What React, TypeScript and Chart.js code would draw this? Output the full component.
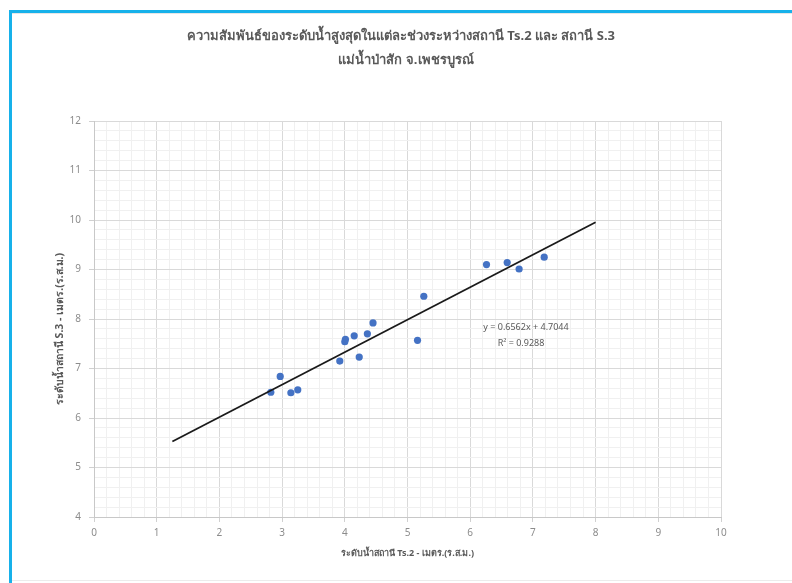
import React, { useEffect, useRef } from "react";
import { Chart, registerables } from "chart.js";

Chart.register(...registerables);

// ---- data ----
const titleLines = [
  "ความสัมพันธ์ของระดับน้ำสูงสุดในแต่ละช่วงระหว่างสถานี Ts.2 และ สถานี S.3",
  "แม่น้ำป่าสัก จ.เพชรบูรณ์",
];
const xAxisTitle = "ระดับน้ำสถานี Ts.2 - เมตร.(ร.ส.ม.)";
const yAxisTitle = "ระดับน้ำสถานี S.3 - เมตร.(ร.ส.ม.)";

const ts2Levels = [2.82, 2.97, 3.14, 3.25, 3.92, 4.0, 4.01, 4.15, 4.23, 4.36, 4.45, 5.16, 5.26, 6.26, 6.59, 6.78, 7.18];
const s3Levels = [6.52, 6.84, 6.51, 6.57, 7.15, 7.54, 7.59, 7.66, 7.23, 7.7, 7.92, 7.57, 8.46, 9.1, 9.14, 9.01, 9.25];

const trendSlope = 0.6562;
const trendIntercept = 4.7044;
const trendR2 = 0.9288;
const trendXRange = [1.25, 8];

const xAxisMin = 0;
const xAxisMax = 10;
const yAxisMin = 4;
const yAxisMax = 12;
const majorStep = 1;
const minorStep = 0.2;

const equationText = `y = ${trendSlope}x + ${trendIntercept}`;
const r2Text = `R² = ${trendR2}`;

const FONT = '"Noto Sans", "DejaVu Sans", sans-serif';

const isMajor = (v: number) => Math.abs(v / majorStep - Math.round(v / majorStep)) < 1e-6;

const textPlugin = {
  id: "textPlugin",
  afterDraw(chart: any) {
    const ctx = chart.ctx as CanvasRenderingContext2D;
    const xs = chart.scales.x;
    ctx.save();
    ctx.textAlign = "center";
    ctx.textBaseline = "middle";
    // title
    ctx.fillStyle = "#595959";
    ctx.font = `bold 13px ${FONT}`;
    ctx.fillText(titleLines[0], 401, 36);
    ctx.fillText(titleLines[1], 406, 60);
    // axis titles
    ctx.font = `bold 9px ${FONT}`;
    ctx.fillText(xAxisTitle, (xs.left + xs.right) / 2, 553);
    ctx.save();
    ctx.translate(60, 329);
    ctx.rotate(-Math.PI / 2);
    ctx.font = `bold 10.5px ${FONT}`;
    ctx.fillText(yAxisTitle, 0, 0);
    ctx.restore();
    // trendline equation
    ctx.font = `9px ${FONT}`;
    ctx.fillStyle = "#595959";
    ctx.fillText(equationText, 526, 327);
    ctx.fillText(r2Text, 521, 343);
    ctx.restore();
  },
};

export default function App() {
  const canvasRef = useRef<HTMLCanvasElement | null>(null);

  useEffect(() => {
    const canvas = canvasRef.current;
    if (!canvas) return;
    const points = ts2Levels.map((x, i) => ({ x, y: s3Levels[i] }));
    const trend = trendXRange.map((x) => ({ x, y: trendSlope * x + trendIntercept }));

    const gridColor = (c: any) => (isMajor(c.tick.value) ? "#d9d9d9" : "#f0f0f0");
    const tickColor = (c: any) => (isMajor(c.tick.value) ? "#d0d0d0" : "rgba(0,0,0,0)");
    const label = (v: any) => (isMajor(Number(v)) ? String(Math.round(Number(v))) : "");

    const chart = new Chart(canvas, {
      type: "scatter",
      data: {
        datasets: [
          {
            label: "trend",
            type: "line",
            data: trend,
            showLine: true,
            borderColor: "#1a1a1a",
            borderWidth: 1.8,
            pointRadius: 0,
            fill: false,
            order: 0,
          } as any,
          {
            label: "S.3",
            data: points,
            backgroundColor: "#4472C4",
            borderColor: "#4472C4",
            borderWidth: 0,
            pointRadius: 3.6,
            order: 1,
          },
        ],
      },
      options: {
        animation: false,
        responsive: false,
        devicePixelRatio: 1,
        layout: { padding: { left: 12, top: 121, right: 71, bottom: 20 } },
        plugins: {
          legend: { display: false },
          tooltip: { enabled: false },
          title: { display: false },
        },
        scales: {
          x: {
            type: "linear",
            min: xAxisMin,
            max: xAxisMax,
            ticks: {
              stepSize: minorStep,
              autoSkip: false,
              maxRotation: 0,
              minRotation: 0,
              padding: 5,
              color: "#8c8c8c",
              font: { size: 10, family: FONT },
              callback: label,
            },
            grid: { color: gridColor, tickColor, tickLength: 5, lineWidth: 1 },
            border: { color: "#c8c8c8" },
            afterFit: (s: any) => {
              s.height = 46;
            },
          },
          y: {
            type: "linear",
            min: yAxisMin,
            max: yAxisMax,
            ticks: {
              stepSize: minorStep,
              autoSkip: false,
              padding: 8,
              color: "#8c8c8c",
              font: { size: 10, family: FONT },
              callback: label,
            },
            grid: { color: gridColor, tickColor, tickLength: 5, lineWidth: 1 },
            border: { color: "#c8c8c8" },
            afterFit: (s: any) => {
              s.width = 82;
            },
          },
        },
      },
      plugins: [textPlugin],
    });
    return () => chart.destroy();
  }, []);

  return (
    <div style={{ position: "fixed", left: 0, top: 0, width: 792, height: 583, background: "#fff", overflow: "hidden" }}>
      <div
        style={{
          position: "absolute",
          left: 9,
          top: 10,
          width: 800,
          height: 600,
          borderTop: "3px solid #17b1ea",
          borderLeft: "3px solid #17b1ea",
        }}
      />
      <div style={{ position: "absolute", left: 12, top: 13, width: 790, height: 1, background: "#e6e6e6" }} />
      <div style={{ position: "absolute", left: 12, top: 580, width: 790, height: 1, background: "#ececec" }} />
      <canvas
        ref={canvasRef}
        width={792}
        height={583}
        style={{ position: "absolute", left: 0, top: 0, width: 792, height: 583 }}
      />
    </div>
  );
}
